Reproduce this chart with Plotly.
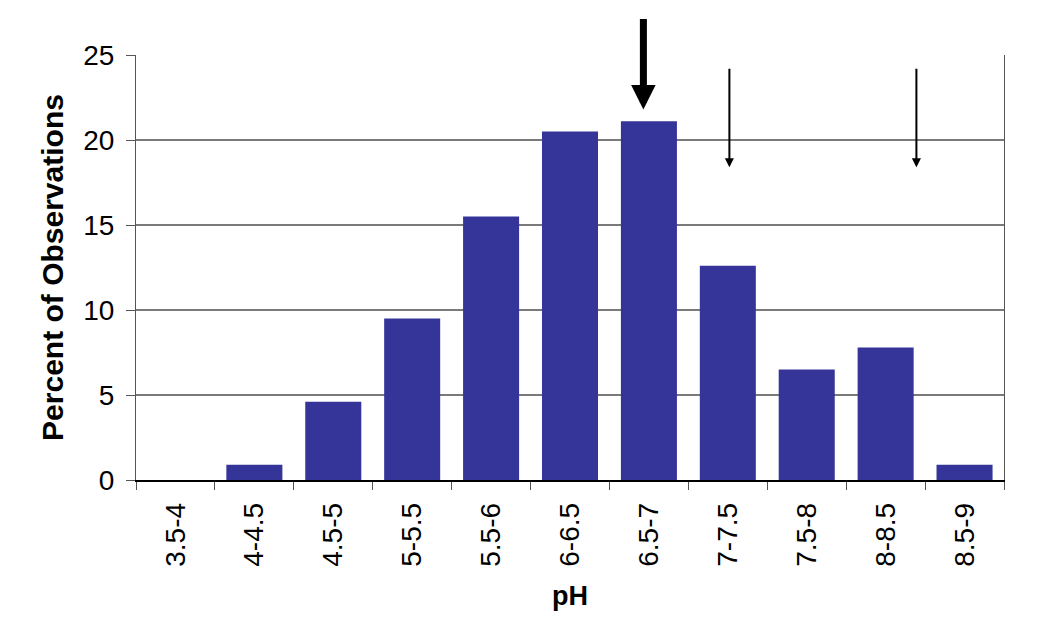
import plotly.graph_objects as go

# pH bins and percent of observations
ph_bins = ["3.5-4", "4-4.5", "4.5-5", "5-5.5", "5.5-6", "6-6.5",
           "6.5-7", "7-7.5", "7.5-8", "8-8.5", "8.5-9"]
percent = [0.0, 0.9, 4.6, 9.5, 15.5, 20.5, 21.1, 12.6, 6.5, 7.8, 0.9]

# arrows (x as category index position, tip value, shaft length px, width, head size)
arrow_x = [5.93, 7.02, 9.39]
arrow_tips = [21.8, 18.4, 18.4]
arrow_len = [92, 100, 100]
arrow_width = [7, 2, 2]
arrow_size = [0.7, 0.9, 0.9]

FONT = "Liberation Sans, Arial, sans-serif"

fig = go.Figure()

fig.add_trace(go.Bar(x=ph_bins, y=percent,
                     marker_color="#343499",
                     marker_line_width=0))

for ax_pos, tip, ln, w, s in zip(arrow_x, arrow_tips, arrow_len, arrow_width, arrow_size):
    fig.add_annotation(x=ax_pos, y=tip, ax=0, ay=-ln,
                       showarrow=True, arrowhead=2,
                       arrowwidth=w, arrowsize=s,
                       arrowcolor="black", text="")

# page body adds 8px, margins allow for it
fig.update_layout(width=1051, height=628,
                  margin={"l": 128, "r": 55, "t": 47, "b": 156},
                  plot_bgcolor="white", paper_bgcolor="white",
                  bargap=0.29, showlegend=False,
                  font={"family": FONT, "size": 28, "color": "black"})

fig.update_xaxes(showline=True, linecolor="black", linewidth=1.5,
                 ticks="outside", tickson="boundaries", ticklen=8,
                 tickcolor="#555555", tickangle=-90,
                 ticklabelstandoff=10,
                 title={"text": "<b>pH</b>", "standoff": 20,
                        "font": {"size": 27}},
                 showgrid=False)

fig.update_yaxes(range=[0, 25], dtick=5,
                 showline=True, linecolor="#555555", mirror=True,
                 ticks="outside", ticklen=9, tickcolor="#555555",
                 ticklabelstandoff=6,
                 gridcolor="#7a7a7a", gridwidth=1.5,
                 zeroline=False,
                 title={"text": "<b>Percent of Observations</b>", "standoff": 10,
                        "font": {"size": 30}})

fig.write_html("out.html")
